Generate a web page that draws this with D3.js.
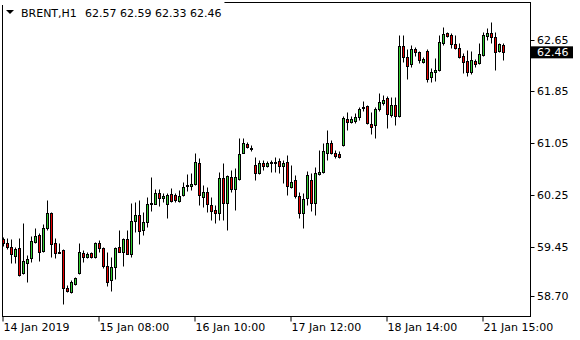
<!DOCTYPE html>
<html>
<head>
<meta charset="utf-8">
<script src="https://cdn.jsdelivr.net/npm/d3@7"></script>
<style>
  body { margin: 0; background: #fff; }
  text { font-family: "DejaVu Sans", sans-serif; font-size: 11px; fill: #000; }
</style>
</head>
<body>
<div id="wrapper"></div>
<script>
const symbol = "BRENT,H1";
const lastBar = [62.57, 62.59, 62.33, 62.46];

// hourly bars
const opens = [
  59.58, 59.51, 59.45, 59.31, 59.44, 59.05, 59.21, 59.28, 59.53, 59.64,
  59.39, 59.75, 59.98, 59.51, 59.38, 59.41, 58.83, 58.76, 58.88, 59.05,
  59.36, 59.30, 59.36, 59.30, 59.51, 59.44, 59.16, 58.94, 59.15, 59.45,
  59.38, 59.58, 59.35, 59.85, 59.95, 59.72, 59.84, 60.12, 60.12, 60.29,
  60.21, 60.12, 60.27, 60.25, 60.16, 60.25, 60.39, 60.39, 60.42, 60.75,
  60.22, 60.30, 60.10, 60.02, 59.98, 60.52, 60.13, 60.53, 60.35, 60.50,
  60.90, 61.04, 60.98, 60.72, 60.59, 60.75, 60.70, 60.75, 60.75, 60.78,
  60.70, 60.76, 60.38, 60.49, 60.24, 59.98, 60.21, 60.49, 60.13, 60.58,
  60.61, 60.90, 61.06, 60.90, 60.88, 61.02, 61.42, 61.38, 61.39, 61.46,
  61.59, 61.62, 61.35, 61.33, 61.58, 61.67, 61.75, 61.49, 61.64, 61.47,
  62.55, 62.38, 62.27, 62.50, 62.46, 62.30, 62.47, 62.07, 62.15, 62.18,
  62.60, 62.75, 62.72, 62.58, 62.52, 62.39, 62.32, 62.15, 62.32, 62.29,
  62.41, 62.70, 62.75, 62.69, 62.47, 62.57
];
const highs = [
  59.61, 59.59, 59.58, 59.45, 59.59, 59.82, 59.33, 59.62, 59.75, 59.67,
  59.81, 60.18, 60.00, 59.59, 59.52, 59.42, 58.87, 58.94, 58.99, 59.52,
  59.41, 59.38, 59.38, 59.53, 59.56, 59.45, 59.38, 59.30, 59.45, 59.72,
  59.59, 59.72, 60.13, 60.15, 60.18, 59.99, 60.22, 60.53, 60.35, 60.35,
  60.29, 60.29, 60.36, 60.29, 60.33, 60.45, 60.58, 60.59, 60.90, 60.82,
  60.41, 60.38, 60.22, 60.10, 60.61, 60.75, 60.56, 60.64, 60.67, 61.13,
  61.13, 61.07, 61.02, 60.84, 60.79, 60.79, 60.78, 60.79, 60.84, 60.82,
  60.79, 60.87, 60.72, 60.56, 60.30, 60.29, 60.62, 60.59, 60.69, 60.95,
  61.06, 61.26, 61.10, 60.95, 60.93, 61.47, 61.53, 61.47, 61.52, 61.61,
  61.70, 61.64, 61.53, 61.61, 61.83, 61.80, 61.78, 61.76, 61.76, 62.72,
  62.72, 62.50, 62.57, 62.53, 62.47, 62.38, 62.50, 62.21, 62.37, 62.72,
  62.84, 62.77, 62.75, 62.72, 62.60, 62.44, 62.49, 62.47, 62.35, 62.60,
  62.77, 62.83, 62.92, 62.77, 62.60, 62.59
];
const lows = [
  59.47, 59.42, 59.21, 59.21, 59.01, 59.04, 58.91, 59.22, 59.51, 59.24,
  59.38, 59.72, 59.30, 59.28, 59.36, 58.57, 58.76, 58.74, 58.87, 59.04,
  59.22, 59.28, 59.28, 59.28, 59.38, 59.13, 58.85, 58.77, 58.96, 59.37,
  59.16, 59.34, 59.30, 59.68, 59.50, 59.64, 59.76, 60.01, 60.11, 60.08,
  60.15, 59.90, 60.15, 60.15, 60.15, 60.24, 60.32, 60.33, 60.41, 60.10,
  60.07, 59.99, 59.87, 59.82, 59.87, 59.87, 59.72, 60.30, 60.03, 60.49,
  60.90, 60.98, 60.93, 60.49, 60.58, 60.64, 60.68, 60.61, 60.61, 60.59,
  60.44, 60.26, 60.36, 60.21, 59.90, 59.75, 60.10, 60.01, 59.95, 60.56,
  60.59, 60.79, 60.89, 60.82, 60.82, 61.01, 61.26, 61.36, 61.36, 61.41,
  61.55, 61.35, 61.19, 61.13, 61.55, 61.64, 61.29, 61.46, 61.33, 61.46,
  62.30, 62.04, 62.23, 62.40, 62.29, 62.29, 61.99, 61.99, 62.01, 62.17,
  62.57, 62.69, 62.52, 62.51, 62.36, 62.13, 62.09, 62.12, 62.23, 62.27,
  62.40, 62.64, 62.60, 62.18, 62.46, 62.33
];
const closes = [
  59.51, 59.45, 59.35, 59.42, 59.02, 59.24, 59.27, 59.55, 59.62, 59.38,
  59.75, 59.98, 59.50, 59.36, 59.37, 58.83, 58.77, 58.91, 58.97, 59.38,
  59.30, 59.35, 59.30, 59.51, 59.44, 59.16, 58.91, 59.15, 59.44, 59.38,
  59.58, 59.35, 59.85, 59.95, 59.70, 59.84, 60.12, 60.13, 60.29, 60.21,
  60.24, 60.25, 60.16, 60.18, 60.24, 60.38, 60.41, 60.42, 60.76, 60.25,
  60.30, 60.12, 60.01, 59.98, 60.52, 60.13, 60.55, 60.35, 60.53, 60.89,
  61.06, 60.99, 60.98, 60.59, 60.75, 60.70, 60.75, 60.76, 60.77, 60.70,
  60.75, 60.39, 60.45, 60.24, 59.98, 60.19, 60.56, 60.13, 60.59, 60.61,
  60.93, 61.06, 60.90, 60.86, 60.84, 61.44, 61.38, 61.42, 61.46, 61.58,
  61.61, 61.36, 61.30, 61.58, 61.69, 61.72, 61.50, 61.64, 61.47, 62.55,
  62.38, 62.24, 62.50, 62.46, 62.33, 62.35, 62.04, 62.15, 62.18, 62.61,
  62.74, 62.70, 62.58, 62.52, 62.38, 62.30, 62.15, 62.33, 62.27, 62.43,
  62.72, 62.75, 62.69, 62.46, 62.58, 62.46
];

const yTicks = [58.70, 59.45, 60.25, 61.05, 61.85, 62.65];
const xTickBars = [0, 24, 48, 72, 96, 120];
const xTickLabels = ["14 Jan 2019", "15 Jan 08:00", "16 Jan 10:00", "17 Jan 12:00", "18 Jan 14:00", "21 Jan 15:00"];

function drawChart() {
  const dimensions = {
    width: 580,
    height: 340,
    plot: { left: 2.5, right: 530.5, top: 2.5, bottom: 316.5 },
  };
  const p = dimensions.plot;

  const bars = opens.map((o, i) => ({ i, o, h: highs[i], l: lows[i], c: closes[i] }));

  const svg = d3.select("#wrapper")
    .append("svg")
      .attr("width", dimensions.width)
      .attr("height", dimensions.height);

  const xScale = d3.scaleLinear()
    .domain([0, 125])
    .range([3.5, 503.5]);

  const yScale = d3.scaleLinear()
    .domain([58.70, 62.65])
    .range([296, 39.5]);

  const py = v => Math.round(yScale(v)) + 0.5;

  svg.append("clipPath").attr("id", "clip")
    .append("rect")
      .attr("x", p.left + 0.5).attr("y", p.top + 0.5)
      .attr("width", p.right - p.left - 1).attr("height", p.bottom - p.top - 1);

  const candles = svg.append("g").attr("clip-path", "url(#clip)")
    .selectAll("g")
    .data(bars)
    .join("g");

  candles.append("line")
    .attr("x1", d => xScale(d.i)).attr("x2", d => xScale(d.i))
    .attr("y1", d => py(d.h)).attr("y2", d => py(d.l))
    .attr("stroke", "#000")
    .attr("stroke-width", 1);

  candles.append("rect")
    .attr("x", d => xScale(d.i) - 1)
    .attr("width", 2)
    .attr("y", d => py(Math.max(d.o, d.c)))
    .attr("height", d => Math.max(1, py(Math.min(d.o, d.c)) - py(Math.max(d.o, d.c))))
    .attr("fill", d => d.c >= d.o ? "#32cd32" : "#e60000")
    .attr("stroke", "#000")
    .attr("stroke-width", 1);

  // frame
  svg.append("rect")
    .attr("x", p.left).attr("y", p.top)
    .attr("width", p.right - p.left).attr("height", p.bottom - p.top)
    .attr("fill", "none")
    .attr("stroke", "#000");

  // y axis on the right
  const yAxis = svg.append("g");
  yAxis.selectAll("line")
    .data(yTicks)
    .join("line")
      .attr("x1", p.right).attr("x2", p.right + 4)
      .attr("y1", d => Math.round(yScale(d)) + 0.5)
      .attr("y2", d => Math.round(yScale(d)) + 0.5)
      .attr("stroke", "#000");
  yAxis.selectAll("text")
    .data(yTicks)
    .join("text")
      .attr("x", 537)
      .attr("y", d => yScale(d) + 4)
      .text(d => d.toFixed(2));

  // current price tag
  const last = closes[closes.length - 1];
  svg.append("rect")
    .attr("x", 531).attr("y", yScale(last) - 5.5)
    .attr("width", 42).attr("height", 12)
    .attr("fill", "#000");
  svg.append("text")
    .attr("x", 537).attr("y", yScale(last) + 4)
    .style("fill", "#fff")
    .text(last.toFixed(2));

  // x axis
  const xAxis = svg.append("g");
  xAxis.selectAll("line")
    .data(xTickBars)
    .join("line")
      .attr("x1", d => xScale(d) - 0.5).attr("x2", d => xScale(d) - 0.5)
      .attr("y1", p.bottom).attr("y2", p.bottom + 5)
      .attr("stroke", "#000");
  xAxis.selectAll("text")
    .data(xTickBars)
    .join("text")
      .attr("x", d => xScale(d))
      .attr("y", 331)
      .text((d, k) => xTickLabels[k]);

  // title
  const title = svg.append("g");
  const values = title.append("text")
    .attr("x", 85).attr("y", 17)
    .text(lastBar.map(v => v.toFixed(2)).join(" "));
  title.insert("rect", "text")
    .attr("x", 0).attr("y", 0)
    .attr("width", values.node().getComputedTextLength() + 88).attr("height", 5)
    .attr("fill", "#fff");
  title.append("text")
    .attr("x", 21).attr("y", 17)
    .text(symbol);
  title.append("path")
    .attr("d", "M6,10 L14,10 L10,14 Z")
    .attr("fill", "#000");
}

drawChart();
</script>
</body>
</html>
